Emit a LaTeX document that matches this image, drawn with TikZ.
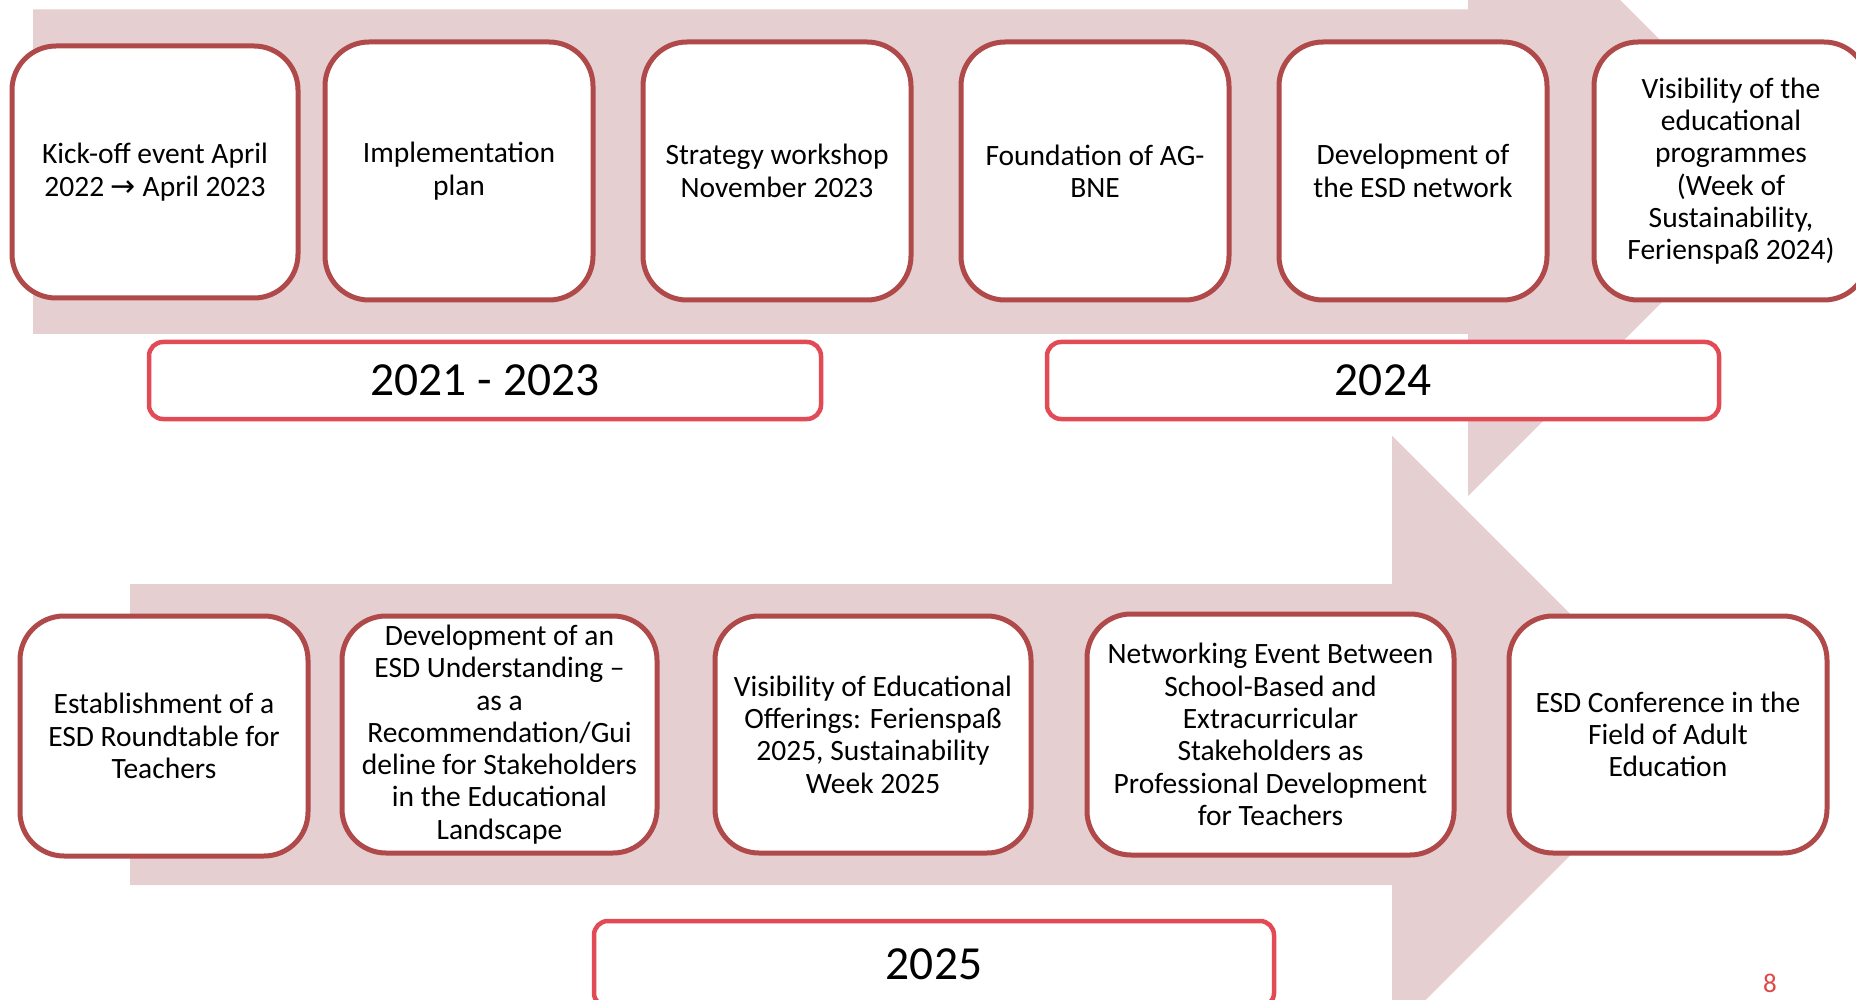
\documentclass[tikz,border=0pt]{standalone}
\usepackage{fontspec}
\setmainfont{Carlito}
\newfontfamily\arrowfont{DejaVu Sans}
\definecolor{band}{RGB}{230,207,208}
\definecolor{boxred}{RGB}{176,74,74}
\definecolor{capred}{RGB}{226,75,85}
\definecolor{pagered}{RGB}{224,72,72}
\tikzset{
  ev/.style={draw=boxred, line width=5pt, fill=white, rounded corners=44pt, align=center, inner sep=0pt, font=\fontsize{29.5}{32.3}\selectfont},
  yearbox/.style={draw=capred, line width=4.5pt, fill=white, rounded corners=14pt, align=center, inner sep=0pt, minimum width=672pt, minimum height=77pt, font=\fontsize{47.5}{56}\selectfont},
}
\begin{document}
\begin{tikzpicture}[x=1pt,y=-1pt]
\useasboundingbox (0,0) rectangle (1856,1000);
\clip (0,0) rectangle (1856,1000);
% arrows
\fill[band] (33,9.5) -- (1468,9.5) -- (1468,-152) -- (1792,172) -- (1468,496) -- (1468,334) -- (33,334) -- cycle;
\fill[band] (130,584) -- (1392,584) -- (1392,435.6) -- (1691,734.5) -- (1392,1033.5) -- (1392,885) -- (130,885) -- cycle;
% top row
\node[ev, minimum width=286pt, minimum height=252pt] (t1) at (155,172) {Kick-off event April\\2022 {\arrowfont\fontsize{30}{32}\selectfont →} April 2023};
\node[ev, minimum width=268pt, minimum height=258pt] (t2) at (459,171) {Implementation\\plan};
\node[ev, minimum width=268pt, minimum height=258pt] (t3) at (777,171) {Strategy workshop\\November 2023};
\node[ev, minimum width=268pt, minimum height=258pt] (t4) at (1095,171) {Foundation of AG-\\BNE};
\node[ev, minimum width=268pt, minimum height=258pt] (t5) at (1413,171) {Development of\\the ESD network};
\node[ev, minimum width=274pt, minimum height=258pt] (t6) at (1731,171) {Visibility of the\\educational\\programmes\\(Week of\\Sustainability,\\Ferienspaß 2024)};
% captions
\node[yearbox] (c1) at (485,380.5) {2021 - 2023};
\node[yearbox] (c2) at (1383,380.5) {2024};
\node[yearbox, minimum width=680pt, minimum height=86pt] (c3) at (934,964) {2025};
% bottom row
\node[ev, minimum width=288pt, minimum height=240pt] (b1) at (164,736) {Establishment of a\\ESD Roundtable for\\Teachers};
\node[ev, minimum width=315pt, minimum height=237pt] (b2) at (499.5,734.5) {Development of an\\ESD Understanding --\\as a\\Recommendation/Gui\\deline for Stakeholders\\in the Educational\\Landscape};
\node[ev, minimum width=316pt, minimum height=237pt] (b3) at (873,734.5) {Visibility of Educational\\Offerings: Ferienspaß\\2025, Sustainability\\Week 2025};
\node[ev, minimum width=367pt, minimum height=241pt] (b4) at (1270.5,734.5) {Networking Event Between\\School-Based and\\Extracurricular\\Stakeholders as\\Professional Development\\for Teachers};
\node[ev, minimum width=318pt, minimum height=237pt] (b5) at (1668,734.5) {ESD Conference in the\\Field of Adult\\Education};
% page number
\node[text=pagered, font=\fontsize{27}{32}\selectfont, anchor=base, inner sep=0pt] (pg) at (1770,992) {8};
\end{tikzpicture}
\end{document}
